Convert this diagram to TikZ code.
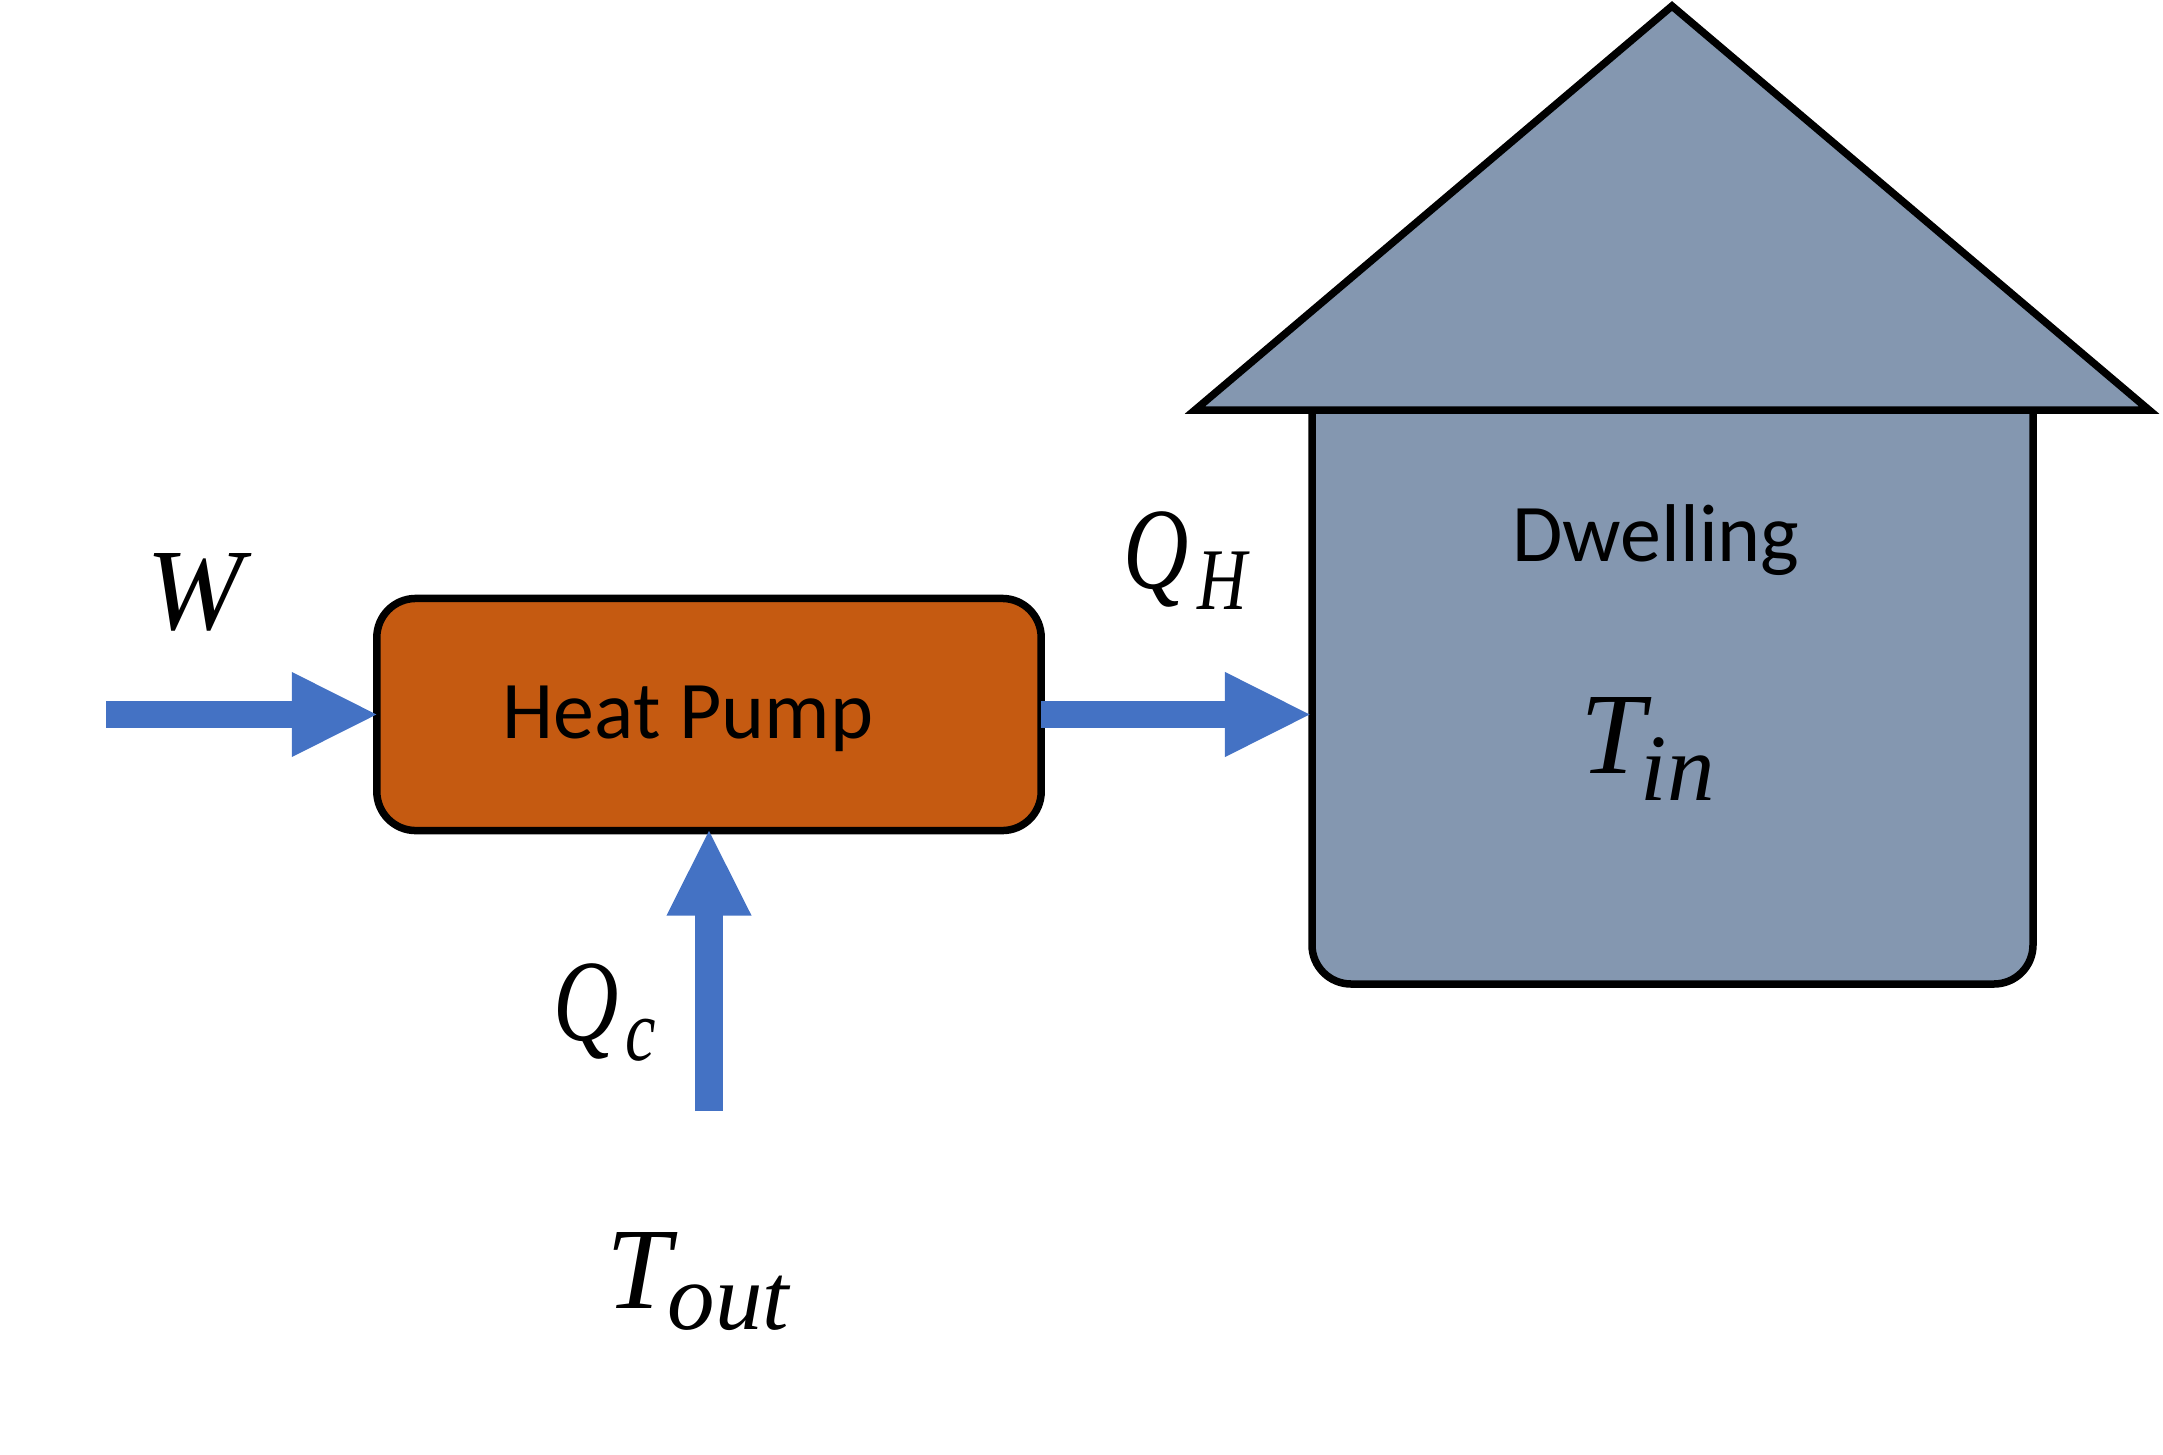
\documentclass[tikz,border=0pt]{standalone}
\usepackage{fontspec}
\setmainfont{Carlito}
\newfontfamily\mathfont[Ligatures=TeX]{Liberation Serif}
\newfontfamily\mathnarrow[FakeStretch=0.78]{Liberation Serif}
\usetikzlibrary{arrows.meta}
\definecolor{dwellingcol}{HTML}{8497B0}
\definecolor{pumpcol}{HTML}{C55A11}
\definecolor{flowcol}{HTML}{4472C4}
\tikzset{
  flow/.style={line width=0.27cm, flowcol, -{Triangle[length=0.87cm,width=0.78cm]}, shorten >=-0.02cm},
  outline/.style={line width=0.075cm, black, line join=miter},
  name text/.style={font=\fontsize{23.3pt}{24pt}\selectfont, inner sep=0pt},
  sym/.style={font=\fontsize{33pt}{33pt}\selectfont\mathfont\itshape, inner sep=0pt},
  symq/.style={font=\fontsize{33pt}{33pt}\selectfont\mathnarrow\itshape, inner sep=0pt},
  subsym/.style={font=\fontsize{27pt}{27pt}\selectfont\mathfont\itshape, inner sep=0pt},
  subq/.style={font=\fontsize{25pt}{25pt}\selectfont\mathnarrow\itshape, inner sep=0pt}
}
\begin{document}
\begin{tikzpicture}[x=0.01cm,y=-0.01cm]
\useasboundingbox (0,0) rectangle (2163,1454);
%dwelling
\draw[outline,fill=dwellingcol](2033,410)[rounded corners=0.39cm]--(2033,984)--(1312,984)[sharp corners]--(1312,410)--cycle;
\draw[outline,fill=dwellingcol](1672,6)--(2149,410)--(1195,410)--cycle;
\node[name text] (dwelling) at (1656,540) {Dwelling};
\node[sym] (tin) at (1613,735) {T};
\node[subsym,anchor=west] (tinsub) at (1640,769) {in};
%heat pump
\node[outline,draw,fill=pumpcol,rounded corners=0.39cm,minimum width=6.64cm,minimum height=2.32cm,inner sep=0pt,outer sep=0pt] (pump) at (709,714.5) {};
\node[name text] (pumptext) at (688,719) {Heat Pump};
%flows
\coordinate (wstart) at (106,714.5);
\coordinate (qcstart) at (709,1111);
\coordinate (wallleft) at (1310,714.5);
\draw[flow](wstart)--(pump.west);
\draw[flow](pump.east)--(wallleft);
\draw[flow](qcstart)--(pump.south);
%labels
\node[sym] (w) at (195,592) {W};
\node[symq] (qh) at (1156,559) {Q};
\node[subq,anchor=west] (qhsub) at (1197,581) {H};
\node[symq] (qc) at (586,1011) {Q};
\node[subq,anchor=west] (qcsub) at (625,1040) {c};
\node[sym] (tout) at (639,1270) {T};
\node[subsym,anchor=west] (toutsub) at (667,1303) {out};
\end{tikzpicture}
\end{document}
